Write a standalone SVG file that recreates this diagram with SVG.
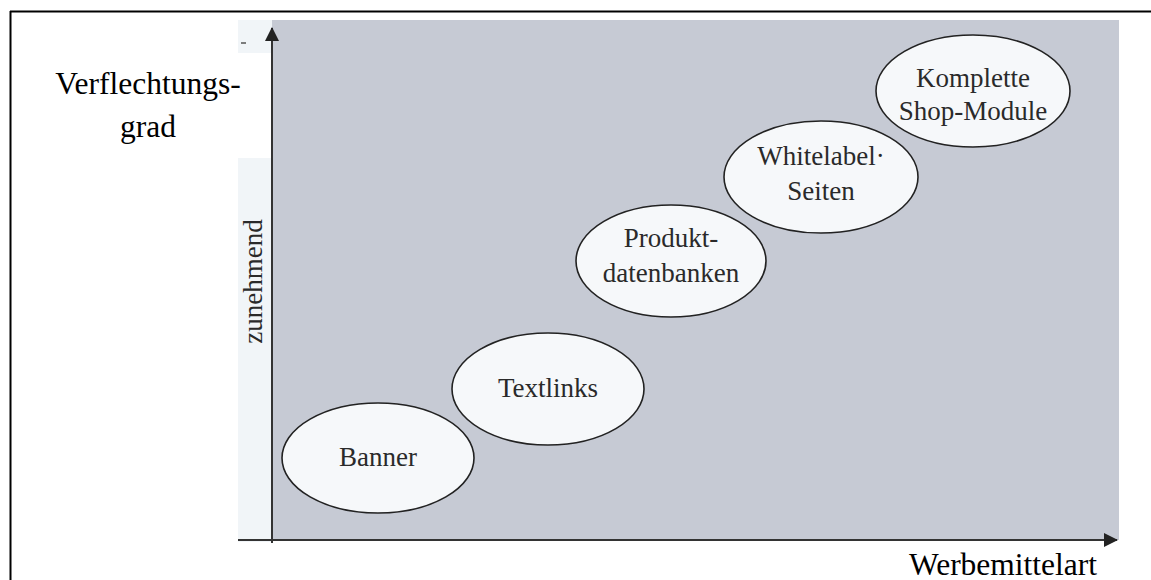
<svg xmlns="http://www.w3.org/2000/svg" width="1151" height="580" viewBox="0 0 1151 580">
  <defs>
    <style>
      .node ellipse { fill: #f6f8fa; stroke: #222; stroke-width: 1.6; }
      .lbl { font-family: "Liberation Serif", "Times New Roman", serif; font-size: 27px; fill: #2a2a2a; text-anchor: middle; }
      .big { font-family: "Liberation Serif", "Times New Roman", serif; font-size: 31.5px; fill: #000; text-anchor: middle; }
      .axis { stroke: #333; stroke-width: 2; fill: none; }
    </style>
    <marker id="arr" viewBox="0 0 14 14" refX="13" refY="7" markerWidth="14" markerHeight="14" markerUnits="userSpaceOnUse" orient="auto">
      <path d="M0,0 L14,7 L0,14 Z" fill="#222"/>
    </marker>
  </defs>
  <rect x="0" y="0" width="1151" height="580" fill="#ffffff"/>
  <!-- frame (top and left) -->
  <line x1="10" y1="11.5" x2="1151" y2="11.5" stroke="#000" stroke-width="2"/>
  <line x1="10.5" y1="11" x2="10.5" y2="580" stroke="#000" stroke-width="2"/>

  <!-- plot background -->
  <rect x="238" y="20" width="34" height="33" fill="#f1f5f8"/>
  <rect x="238" y="158" width="34" height="384" fill="#f1f5f8"/>
  <rect x="272" y="20" width="847" height="520" fill="#c6cad4"/>
  <line x1="241" y1="43" x2="246" y2="43" stroke="#555" stroke-width="1.5"/>

  <g id="connectors">
    <line class="axis" x1="272" y1="543" x2="272" y2="28" marker-end="url(#arr)"/>
    <line class="axis" x1="238" y1="540" x2="1117" y2="540" marker-end="url(#arr)"/>
  </g>

  <g id="axis-labels">
    <text class="big" x="148" y="94">Verflechtungs-</text>
    <text class="big" x="148" y="137">grad</text>
    <text class="lbl" transform="translate(262,281.5) rotate(-90)">zunehmend</text>
    <text class="big" x="1003" y="575">Werbemittelart</text>
  </g>

  <g id="banner" class="node">
    <ellipse cx="378" cy="458" rx="96" ry="55"/>
    <text class="lbl" x="378" y="466">Banner</text>
  </g>
  <g id="textlinks" class="node">
    <ellipse cx="548" cy="389" rx="96" ry="56"/>
    <text class="lbl" x="548" y="397">Textlinks</text>
  </g>
  <g id="produktdatenbanken" class="node">
    <ellipse cx="671" cy="261" rx="95" ry="56"/>
    <text class="lbl" x="671" y="247">Produkt-</text>
    <text class="lbl" x="671" y="282">datenbanken</text>
  </g>
  <g id="whitelabel" class="node">
    <ellipse cx="821" cy="177" rx="97" ry="56"/>
    <text class="lbl" x="821" y="165">Whitelabel·</text>
    <text class="lbl" x="821" y="200">Seiten</text>
  </g>
  <g id="shopmodule" class="node">
    <ellipse cx="973" cy="91" rx="97" ry="56"/>
    <text class="lbl" x="973" y="87">Komplette</text>
    <text class="lbl" x="973" y="120">Shop-Module</text>
  </g>
</svg>
